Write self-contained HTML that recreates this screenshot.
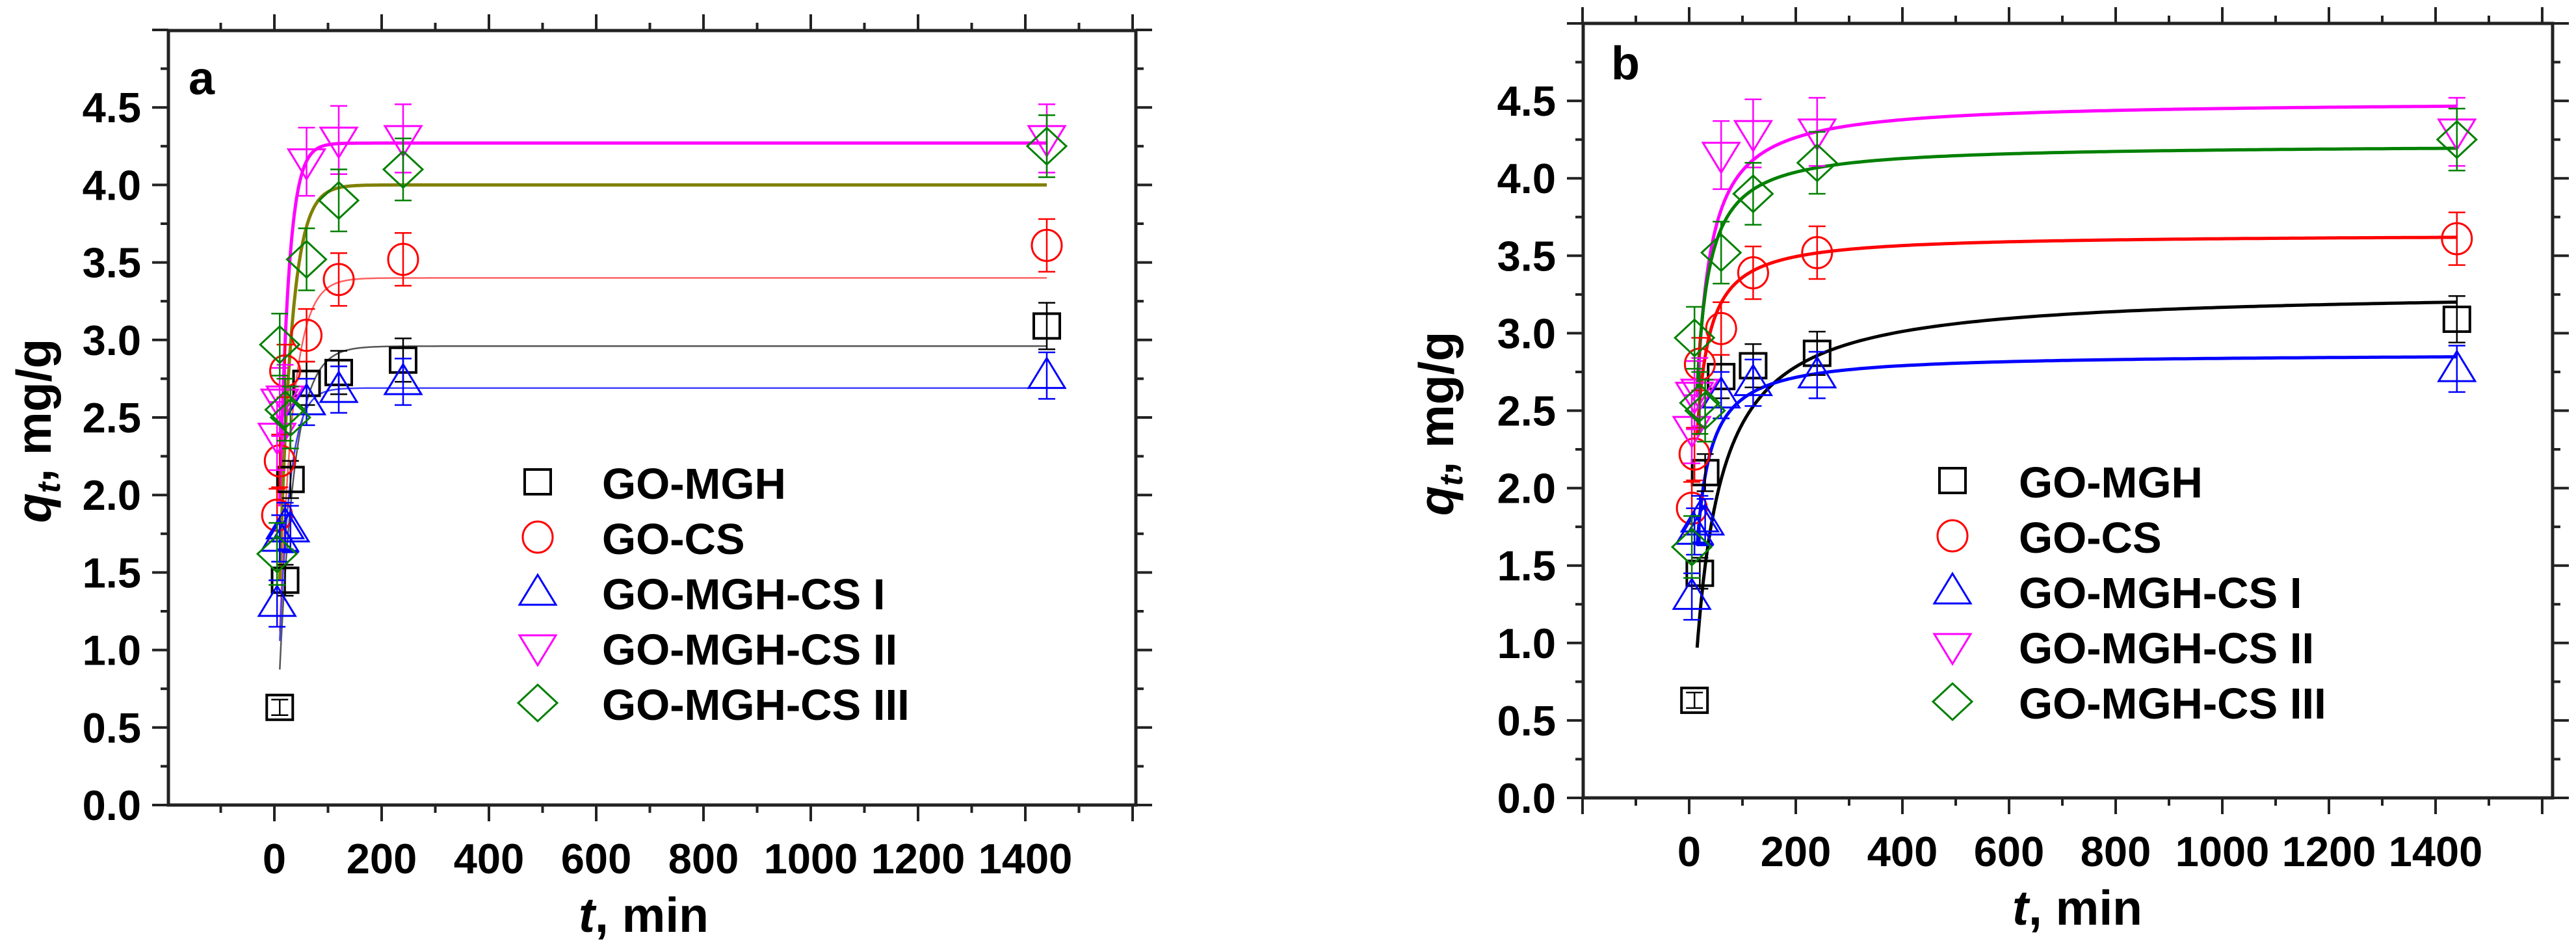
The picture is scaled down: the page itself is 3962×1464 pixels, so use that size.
<!DOCTYPE html>
<html><head><meta charset="utf-8">
<style>
html,body{margin:0;padding:0;background:#fff;}
svg{display:block;}
text{font-family:"Liberation Sans",Arial,sans-serif;font-weight:bold;fill:#000;}
</style></head>
<body>
<svg id="fig" width="3962" height="1464" viewBox="0 0 3962 1464" xmlns="http://www.w3.org/2000/svg"></svg>
<script>
// ---- data ----
const seriesNames = ["GO-MGH","GO-CS","GO-MGH-CS I","GO-MGH-CS II","GO-MGH-CS III"];
const seriesColors = ["#000000","#ff0000","#0000ff","#ff00ff","#008000"];
const tMGH = [10,20,30,60,120,240,1440];
const qMGH = [0.63,1.45,2.1,2.72,2.79,2.87,3.09];
const tCS = [5,10,20,60,120,240,1440];
const qCS = [1.87,2.22,2.8,3.03,3.39,3.52,3.61];
const tI = [5,10,20,30,60,120,240,1440];
const qI = [1.3,1.72,1.8,1.78,2.6,2.68,2.73,2.77];
const tII = [5,10,20,60,120,240,1440];
const qII = [2.38,2.6,2.62,4.15,4.29,4.3,4.3];
const tIII = [5,10,20,30,60,120,240,1440];
const qIII = [1.62,2.97,2.55,2.5,3.52,3.9,4.1,4.25];
const errs = [0.14,0.17,0.15,0.22,0.2];
const errMGH = [0.05,0.1,0.12,0.14,0.14,0.14,0.15];
// fit parameters: panel a pseudo-first-order (qe, k), panel b pseudo-second-order (qe, h)
const fitAqe = [2.96,3.40,2.69,4.27,4.0];
const fitAk = [0.035,0.04,0.05,0.06,0.045];
const fitBqe = [3.28,3.64,2.87,4.5,4.22];
const fitBh = [0.028,0.12,0.0875,0.09,0.112];
const xTicks = [0,200,400,600,800,1000,1200,1400];
const yTicks = [0.0,0.5,1.0,1.5,2.0,2.5,3.0,3.5,4.0,4.5];

const svgNS="http://www.w3.org/2000/svg";
const fig=document.getElementById('fig');
function mk(tag,attrs,parent){const e=document.createElementNS(svgNS,tag);for(const k in attrs)e.setAttribute(k,attrs[k]);(parent||fig).appendChild(e);return e;}

const panels=[
 {id:'a',left:259,right:1747,top:47,bottom:1238,x0:422,xs:165/200,ys:238.4,label:'a',lx:290,ly:145,
  legX:827,legTX:926,legY0:745,legDy:85,xlabX:990,model:'pfo',tStart:10},
 {id:'b',left:2435,right:3926,top:36,bottom:1227,x0:2598,xs:164/200,ys:238.2,label:'b',lx:2478,ly:122,
  legX:3003,legTX:3105,legY0:743,legDy:85,xlabX:3195,model:'pso',tStart:15}
];
const tData=[tMGH,tCS,tI,tII,tIII], qData=[qMGH,qCS,qI,qII,qIII];

function marker(g,i,cx,cy,col){
 let e;
 if(i===0) e=mk('rect',{x:cx-20,y:cy-19,width:40,height:38,fill:'none',stroke:col,'stroke-width':4},g);
 else if(i===1) e=mk('ellipse',{cx:cx,cy:cy,rx:23,ry:24,fill:'none',stroke:col,'stroke-width':3},g);
 else if(i===2) e=mk('polygon',{points:`${cx},${cy-27} ${cx+28},${cy+19} ${cx-28},${cy+19}`,fill:'none',stroke:col,'stroke-width':3},g);
 else if(i===3) e=mk('polygon',{points:`${cx},${cy+27} ${cx+28},${cy-19} ${cx-28},${cy-19}`,fill:'none',stroke:col,'stroke-width':3},g);
 else e=mk('polygon',{points:`${cx},${cy-28} ${cx+30},${cy} ${cx},${cy+28} ${cx-30},${cy}`,fill:'none',stroke:col,'stroke-width':3},g);
 return e;
}

panels.forEach(p=>{
 const X=t=>p.x0+t*p.xs, Y=q=>p.bottom-q*p.ys;
 const g=mk('g',{});
 
 
 const fr=mk('rect',{x:p.left,y:p.top,width:p.right-p.left,height:p.bottom-p.top,fill:'none',stroke:'#222','stroke-width':5},g);
 
 
 for(let t=-200;t<=1600;t+=100){
  const x=X(t); if(x<p.left-1||x>p.right+1) continue;
  const maj=(t%200===0);
  mk('line',{x1:x,y1:p.bottom,x2:x,y2:p.bottom+(maj?25:12),stroke:'#222','stroke-width':4},g);
  mk('line',{x1:x,y1:p.top,x2:x,y2:p.top-(maj?25:12),stroke:'#222','stroke-width':4},g);
 }
 xTicks.forEach(t=>{
  const tx=mk('text',{x:X(t),y:p.bottom+105,'font-size':65,'text-anchor':'middle'},g);
  tx.textContent=String(t);
  
  
 });
 for(let q=0;q<=5.0001;q+=0.25){
  const y=Y(q); const maj=Math.abs(q*2-Math.round(q*2))<1e-6;
  mk('line',{x1:p.left,y1:y,x2:p.left-(maj?25:12),y2:y,stroke:'#222','stroke-width':4},g);
  mk('line',{x1:p.right,y1:y,x2:p.right+(maj?25:12),y2:y,stroke:'#222','stroke-width':4},g);
 }
 yTicks.forEach(q=>{
  const tx=mk('text',{x:p.left-42,y:Y(q)+23,'font-size':65,'text-anchor':'end'},g);
  tx.textContent=q.toFixed(1);
  
  
 });
 const xt=mk('text',{x:p.xlabX,y:p.bottom+195,'font-size':75,'text-anchor':'middle'},g);
 xt.innerHTML='<tspan font-style="italic">t</tspan>, min';
 
 
 const cy=(p.top+p.bottom)/2+20;
 const yt=mk('text',{x:0,y:0,'font-size':75,'text-anchor':'middle',transform:`translate(${p.id==='a'?78:2235},${cy}) rotate(-90)`},g);
 yt.innerHTML='<tspan font-style="italic">q</tspan><tspan font-style="italic" font-size="50" dy="14">t</tspan><tspan dy="-14">, mg/g</tspan>';
 
 
 const pl=mk('text',{x:p.lx,y:p.ly,'font-size':72},g);
 pl.textContent=p.label;
 
 
 for(let i=0;i<5;i++){
  const pts=[];
  for(let t=p.tStart;t<=1440;t+=(t<300?1:10)){
   let q;
   if(p.model==='pfo') q=fitAqe[i]*(1-Math.exp(-fitAk[i]*t));
   else q=fitBqe[i]*fitBh[i]*t/(1+fitBh[i]*t);
   pts.push(X(t).toFixed(1)+','+Y(q).toFixed(1));
  }
  let col=seriesColors[i], w=5;
  if(p.model==='pfo'){ if(i<3){w=2.5; col=['#555','#ff6060','#4040ff'][i];} if(i===4) col='#808000'; }
  const pl2=mk('polyline',{points:pts.join(' '),fill:'none',stroke:col,'stroke-width':w},g);
  
  
 }
 for(let i=0;i<5;i++){
  const col=seriesColors[i];
  const sg=mk('g',{},g);
  
  
  tData[i].forEach((t,j)=>{
   const x=X(t), y=Y(qData[i][j]), e=(i===0?errMGH[j]:errs[i])*p.ys;
   mk('line',{x1:x,y1:y-e,x2:x,y2:y+e,stroke:col,'stroke-width':2.5},sg);
   mk('line',{x1:x-13,y1:y-e,x2:x+13,y2:y-e,stroke:col,'stroke-width':2.5},sg);
   mk('line',{x1:x-13,y1:y+e,x2:x+13,y2:y+e,stroke:col,'stroke-width':2.5},sg);
   const m=marker(sg,i,x,y,col);
   
   
  });
 }
 const lg=mk('g',{},g);
 
 
 for(let i=0;i<5;i++){
  const y=p.legY0+i*p.legDy;
  const eg=mk('g',{},lg);
  
  
  marker(eg,i,p.legX,y-4,seriesColors[i]);
  const tx=mk('text',{x:p.legTX,y:y+22,'font-size':67},eg);
  tx.textContent=seriesNames[i];
 }
});
</script>
</body></html>
